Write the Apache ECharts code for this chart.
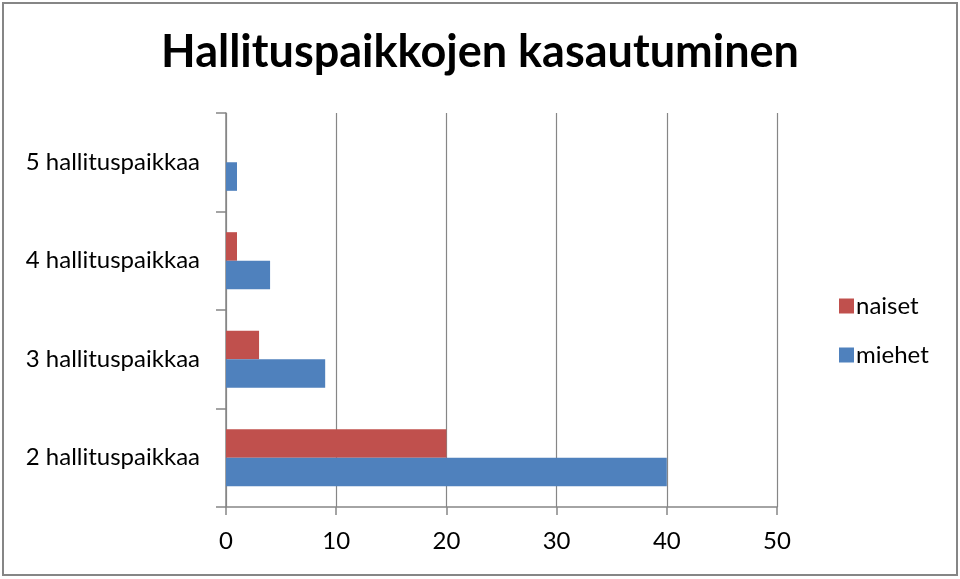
<!DOCTYPE html>
<html><head><meta charset="utf-8">
<script src="https://cdn.jsdelivr.net/npm/echarts@6/dist/echarts.min.js"></script>
<style>html,body{margin:0;padding:0;background:#fff}#c{width:960px;height:579px}</style>
</head><body><div id="c"></div>
<script>
const categories = ['2 hallituspaikkaa', '3 hallituspaikkaa', '4 hallituspaikkaa', '5 hallituspaikkaa'];
const naiset = [20, 3, 1, 0];
const miehet = [40, 9, 4, 1];
const xTicks = [0, 10, 20, 30, 40, 50];
const titleText = 'Hallituspaikkojen kasautuminen';

const chart = echarts.init(document.getElementById('c'));
const font = 'Lato, "Open Sans", sans-serif';
chart.setOption({
  animation: false,
  title: { text: titleText, left: 'center', top: 25,
    textStyle: { fontFamily: font, fontSize: 45, fontWeight: 'bold', color: '#000' } },
  graphic: [{ type: 'rect', shape: { x: 3, y: 3, width: 954, height: 572 },
    style: { fill: 'none', stroke: '#868686', lineWidth: 2 } }],
  legend: { orient: 'vertical', left: 834, top: 289, itemWidth: 15, itemHeight: 15, itemGap: 25,
    icon: 'rect', data: ['naiset', 'miehet'],
    textStyle: { fontFamily: font, fontSize: 24, color: '#000', padding: [0, 0, 0, -3] } },
  grid: { left: 226, right: 183, top: 113, bottom: 72, containLabel: false },
  xAxis: { type: 'value', min: xTicks[0], max: xTicks[xTicks.length - 1], interval: 10,
    axisLine: { show: true, lineStyle: { color: '#868686', width: 1.5 } },
    axisTick: { show: true, length: 8, lineStyle: { color: '#868686', width: 1.5 } },
    splitLine: { show: true, lineStyle: { color: '#868686', width: 1.2 } },
    axisLabel: { fontFamily: font, fontSize: 24, color: '#000', margin: 22 } },
  yAxis: { type: 'category', data: categories,
    axisLine: { show: true, lineStyle: { color: '#868686', width: 1.5 } },
    axisTick: { show: true, length: 10, lineStyle: { color: '#868686', width: 1.5 } },
    axisLabel: { fontFamily: font, fontSize: 24, color: '#000', margin: 26 } },
  series: [
    { name: 'naiset', type: 'bar', data: naiset, itemStyle: { color: '#C0504D' }, barGap: '0%', barCategoryGap: '42%' },
    { name: 'miehet', type: 'bar', data: miehet, itemStyle: { color: '#4F81BD' }, barGap: '0%', barCategoryGap: '42%' }
  ]
});
</script></body></html>
